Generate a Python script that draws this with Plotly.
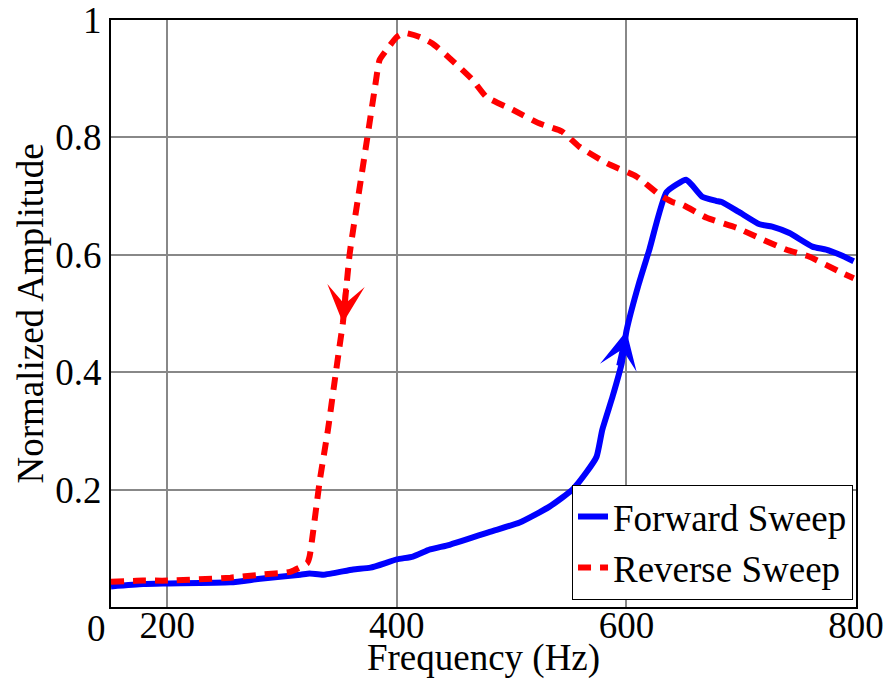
import plotly.graph_objects as go

# Forward sweep (Hz, normalized amplitude)
fwd_freq = [151, 179, 200, 255, 281, 316, 324, 336, 362, 377, 400, 414, 429, 446,
            481, 507, 533, 553, 565, 574, 579, 588, 596, 600, 611, 620, 635, 652,
            657, 666, 678, 683, 698, 716, 727, 742, 762, 774, 786, 798]
fwd_amp = [0.035, 0.039, 0.040, 0.042, 0.048, 0.055, 0.057, 0.055, 0.064, 0.067,
           0.081, 0.086, 0.098, 0.106, 0.128, 0.144, 0.171, 0.200, 0.229, 0.256,
           0.302, 0.359, 0.416, 0.470, 0.552, 0.609, 0.707, 0.728, 0.719, 0.699,
           0.692, 0.690, 0.673, 0.652, 0.648, 0.637, 0.614, 0.609, 0.600, 0.589]

# Reverse sweep
rev_freq = [151, 179, 200, 255, 281, 307, 322, 324, 327, 333, 340, 346, 350, 353,
            359, 366, 374, 381, 385, 391, 400, 407, 420, 431, 446, 466, 478, 501,
            524, 544, 559, 583, 609, 629, 640, 649, 670, 696, 713, 739, 759, 788, 798]
rev_amp = [0.043, 0.045, 0.045, 0.050, 0.055, 0.060, 0.075, 0.086, 0.127, 0.217,
           0.302, 0.387, 0.443, 0.484, 0.603, 0.694, 0.796, 0.886, 0.932, 0.949,
           0.971, 0.978, 0.971, 0.960, 0.935, 0.898, 0.869, 0.847, 0.824, 0.810,
           0.784, 0.756, 0.733, 0.702, 0.690, 0.685, 0.663, 0.646, 0.631, 0.609,
           0.597, 0.569, 0.560]

x_ticks = [200, 400, 600, 800]
x_tick_labels = ["200", "400", "600", "800"]
y_ticks = [0.2, 0.4, 0.6, 0.8, 1.0]
y_tick_labels = ["0.2", "0.4", "0.6", "0.8", "1"]
origin_label = "0"

FONT = "Liberation Serif, Times New Roman, serif"
FS = 37

fig = go.Figure()
fig.add_trace(go.Scatter(x=fwd_freq, y=fwd_amp, mode="lines", name="Forward Sweep",
                         line=dict(color="#0000ff", width=6, shape="spline", smoothing=0.5)))
fig.add_trace(go.Scatter(x=rev_freq, y=rev_amp, mode="lines", name="Reverse Sweep",
                         line=dict(color="#ff0000", width=6, dash="13px,9px",
                                   shape="spline", smoothing=0.5)))

# direction arrows placed on data points
ri = rev_freq.index(353)
fi = fwd_freq.index(600)
fig.add_annotation(x=rev_freq[ri], y=rev_amp[ri], xref="x", yref="y",
                   ax=3, ay=-36, showarrow=True, arrowhead=3, arrowsize=1.25,
                   arrowwidth=5, arrowcolor="#ff0000", text="")
fig.add_annotation(x=fwd_freq[fi], y=fwd_amp[fi], xref="x", yref="y",
                   ax=-8, ay=36, showarrow=True, arrowhead=3, arrowsize=1.25,
                   arrowwidth=5, arrowcolor="#0000ff", text="")
fig.add_annotation(x=0, xref="paper", y=0, yref="y", text=origin_label,
                   showarrow=False, xanchor="right", yanchor="middle",
                   xshift=-3, yshift=-21, font=dict(family=FONT, size=FS, color="black"))

axis_common = dict(showline=True, linecolor="black", linewidth=2, mirror=True,
                   showgrid=True, gridcolor="#888888", gridwidth=2,
                   zeroline=False, ticks="", automargin=False,
                   ticklabeloverflow="allow",
                   tickfont=dict(family=FONT, size=FS, color="black"))

fig.update_xaxes(range=[151, 800], tickvals=x_ticks, ticktext=x_tick_labels,
                 ticklabelstandoff=-15,
                 title=dict(text="Frequency (Hz)", font=dict(family=FONT, size=FS, color="black"),
                            standoff=0),
                 **axis_common)
fig.update_yaxes(range=[0, 1], tickvals=y_ticks, ticktext=y_tick_labels,
                 title=dict(text="Normalized Amplitude", font=dict(family=FONT, size=FS, color="black"),
                            standoff=0),
                 **axis_common)

fig.update_layout(
    width=887, height=679,
    margin=dict(l=111, r=31, t=20, b=72, autoexpand=False),
    plot_bgcolor="white", paper_bgcolor="white",
    font=dict(family=FONT, size=FS, color="black"),
    legend=dict(x=0.996, y=0.012, xanchor="right", yanchor="bottom",
                bgcolor="white", bordercolor="black", borderwidth=1,
                font=dict(family=FONT, size=FS, color="black"),
                tracegroupgap=0, itemwidth=30),
    showlegend=True,
)

fig.write_html("out.html")
